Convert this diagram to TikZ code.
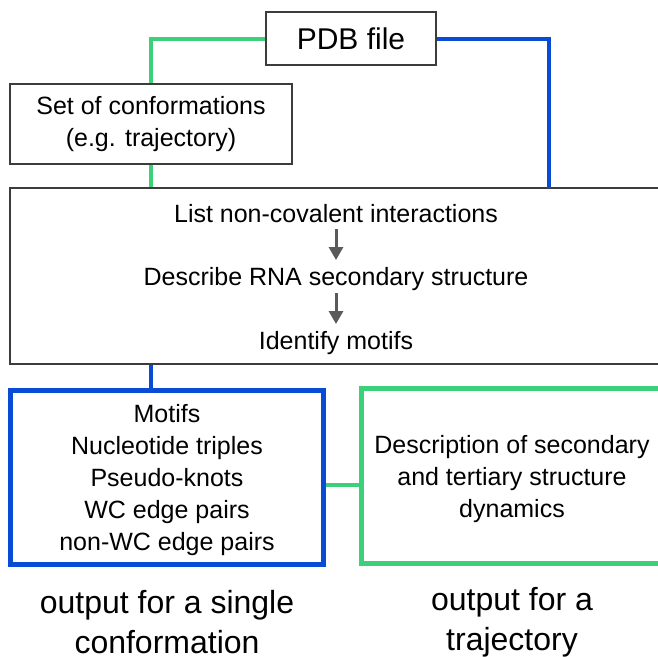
\documentclass[tikz,border=0pt]{standalone}
\usepackage{fontspec}
\setmainfont{Liberation Sans}
\usetikzlibrary{arrows.meta,calc}
\definecolor{cgreen}{RGB}{61,208,122}
\definecolor{cblue}{RGB}{8,76,214}
\definecolor{cframe}{RGB}{60,60,60}
\definecolor{carrow}{RGB}{90,90,90}
\begin{document}
\begin{tikzpicture}[x=1pt,y=-1pt,
  graybox/.style={draw=cframe,line width=1.4pt,fill=white,inner sep=0pt},
  outbox/.style={line width=5pt,inner sep=0pt,align=center,font=\fontsize{25}{32}\selectfont},
  gline/.style={draw=cgreen,line width=4pt},
  bline/.style={draw=cblue,line width=4pt},
  stepname/.style={inner sep=0pt,font=\fontsize{25}{30}\selectfont},
  garrow/.style={draw=carrow,line width=3pt,-{Triangle[length=13pt,width=14pt]}},
  caption/.style={align=center,font=\fontsize{32}{40}\selectfont,inner sep=0pt}]
\useasboundingbox (0,0) rectangle (657,657);
\fill[white] (0,0) rectangle (657,657);

\coordinate (bj) at (549,188);
\coordinate (gc) at (340,485);

\node[graybox,minimum width=170pt,minimum height=53pt,font=\fontsize{30}{36}\selectfont] (pdb) at (351,38.5) {PDB file};
\node[graybox,minimum width=282pt,minimum height=80pt,align=center,font=\fontsize{25}{32}\selectfont] (set) at (151,124) {Set of conformations\\(e.g. trajectory)};
\node[graybox,minimum width=652pt,minimum height=176pt] (main) at (336,276) {};

\node[stepname] (s1) at (336,214) {List non-covalent interactions};
\node[stepname] (s2) at (336,279) {Describe RNA secondary structure};
\node[stepname] (s3) at (336,343) {Identify motifs};
\draw[garrow] (336,229) -- (336,260);
\draw[garrow] (336,293) -- (336,324);

\node[outbox,draw=cblue,minimum width=313pt,minimum height=174pt] (single) at (167,477.5) {};
\node[align=center,font=\fontsize{25}{32}\selectfont,inner sep=0pt] (singletext) at (167,480.5)
  {Motifs\\Nucleotide triples\\Pseudo-knots\\WC edge pairs\\non-WC edge pairs};
\node[outbox,draw=cgreen,minimum width=301pt,minimum height=175pt] (traj) at (512,476) {};
\node[align=center,font=\fontsize{25}{32}\selectfont,inner sep=0pt] (trajtext) at (512,479)
  {Description of secondary\\and tertiary structure\\dynamics};

\node[caption] (c1) at (167,622) {output for a single\\conformation};
\node[caption] (c2) at (512,622) {output for a\\trajectory};

\draw[gline] (pdb.west) -| (set.north);
\draw[gline] (set.south) -- (main.north -| set.south);
\draw[bline] (pdb.east) -| (bj);
\draw[bline] (main.south -| set.south) -- (single.north -| set.south);
\draw[gline] (single.east |- gc) -- (traj.west |- gc);
\end{tikzpicture}
\end{document}
